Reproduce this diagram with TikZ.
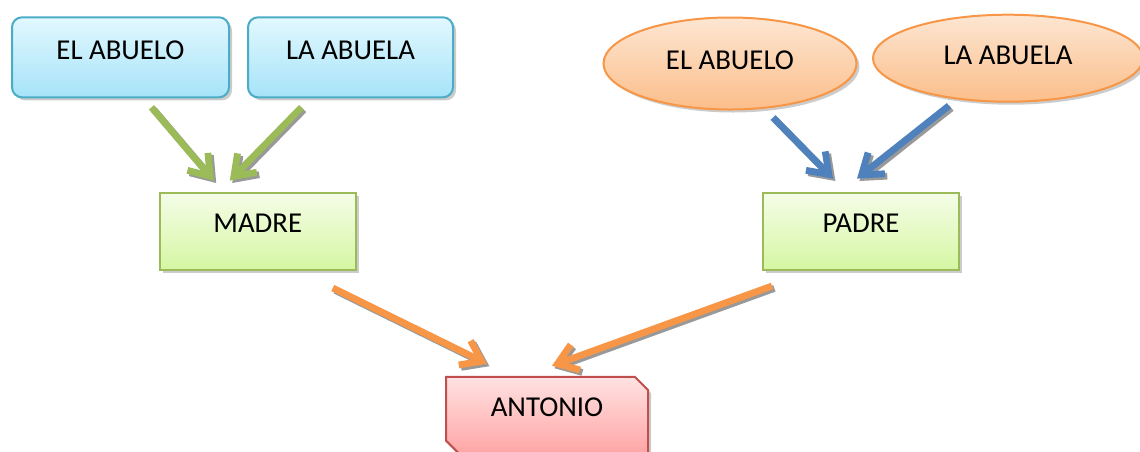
\documentclass[tikz,border=0pt]{standalone}
\usepackage{fontspec}
\setmainfont{Carlito}
\usetikzlibrary{arrows.meta,shadows,shapes.geometric,shapes.misc}
\definecolor{bordeazul}{HTML}{4BACC6}
\definecolor{bordeverde}{HTML}{9BBB59}
\definecolor{bordenaranja}{HTML}{F79646}
\definecolor{borderojo}{HTML}{C0504D}
\definecolor{flechaazul}{HTML}{4F81BD}
\definecolor{azularriba}{HTML}{E2F8FE}
\definecolor{azulabajo}{HTML}{A6E3F9}
\definecolor{verdearriba}{HTML}{F4FDE8}
\definecolor{verdeabajo}{HTML}{D6F6A2}
\definecolor{naranjaarriba}{HTML}{FDE6D2}
\definecolor{naranjaabajo}{HTML}{FBBE8A}
\definecolor{rojoarriba}{HTML}{FFE2E2}
\definecolor{rojoabajo}{HTML}{FFA5A5}
\tikzset{
  caja/.style={line width=1pt, text height=9.3pt,
    drop shadow={shadow xshift=1.5pt, shadow yshift=-1.5pt, opacity=0.4}},
  abuelosa/.style={caja, rounded corners=5pt, draw=bordeazul,
    top color=azularriba, bottom color=azulabajo, minimum height=40pt, text depth=7.3pt},
  abuelosb/.style={caja, ellipse, draw=bordenaranja,
    top color=naranjaarriba, bottom color=naranjaabajo, text depth=3pt},
  padres/.style={caja, rectangle, draw=bordeverde,
    top color=verdearriba, bottom color=verdeabajo, minimum width=98pt, minimum height=38.7pt, text depth=8.4pt},
  hijo/.style={caja, chamfered rectangle, chamfered rectangle corners={north east,south west},
    chamfered rectangle xsep=3.3pt, chamfered rectangle ysep=3.3pt, draw=borderojo,
    top color=rojoarriba, bottom color=rojoabajo, minimum width=101pt, minimum height=38.5pt, text depth=8pt},
  flecha/.style={line width=3.4pt, -{Straight Barb[length=9.5pt,width=13.5pt]}},
  sombra/.style={flecha, draw=black!40, transform canvas={shift={(1.2pt,-1.2pt)}}}
}
\begin{document}
\begin{tikzpicture}[x=0.5pt, y=-0.5pt, font=\fontsize{14.4}{17}\selectfont]
        \useasboundingbox (0,0) rectangle (1140,451);
        \node[abuelosa, minimum width=108.5pt] (abueloA) at (120.5,57.3) {EL ABUELO};
        \node[abuelosa, minimum width=102.5pt] (abuelaA) at (350.5,57.3) {LA ABUELA};
        \node[abuelosb, minimum width=126.5pt, minimum height=46pt] (abueloB) at (730,63.5) {EL ABUELO};
        \node[abuelosb, minimum width=135pt, minimum height=43.5pt] (abuelaB) at (1008,58.2) {LA ABUELA};
        \node[padres] (madre) at (257.8,231.3) {MADRE};
        \node[padres] (padre) at (861,231.3) {PADRE};
        \node[hijo] (antonio) at (547,415.3) {ANTONIO};
        \draw[sombra] ([shift={(31,9)}]abueloA.south) -- ([shift={(-44,-11)}]madre.north);
        \draw[sombra] ([shift={(-49,9)}]abuelaA.south) -- ([shift={(-28,-11)}]madre.north);
        \draw[sombra] ([shift={(43,7)}]abueloB.south) -- ([shift={(-28,-13)}]padre.north);
        \draw[sombra] ([shift={(-59,3)}]abuelaB.south) -- ([shift={(-4,-13)}]padre.north);
        \draw[sombra] ([shift={(75,17)}]madre.south) -- ([shift={(-60,-12)}]antonio.north);
        \draw[sombra] ([shift={(-89,15)}]padre.south) -- ([shift={(5,-10)}]antonio.north);
        \draw[flecha, bordeverde] ([shift={(31,9)}]abueloA.south) -- ([shift={(-44,-11)}]madre.north);
        \draw[flecha, bordeverde] ([shift={(-49,9)}]abuelaA.south) -- ([shift={(-28,-11)}]madre.north);
        \draw[flecha, flechaazul] ([shift={(43,7)}]abueloB.south) -- ([shift={(-28,-13)}]padre.north);
        \draw[flecha, flechaazul] ([shift={(-59,3)}]abuelaB.south) -- ([shift={(-4,-13)}]padre.north);
        \draw[flecha, bordenaranja] ([shift={(75,17)}]madre.south) -- ([shift={(-60,-12)}]antonio.north);
        \draw[flecha, bordenaranja] ([shift={(-89,15)}]padre.south) -- ([shift={(5,-10)}]antonio.north);
    \end{tikzpicture}
\end{document}
